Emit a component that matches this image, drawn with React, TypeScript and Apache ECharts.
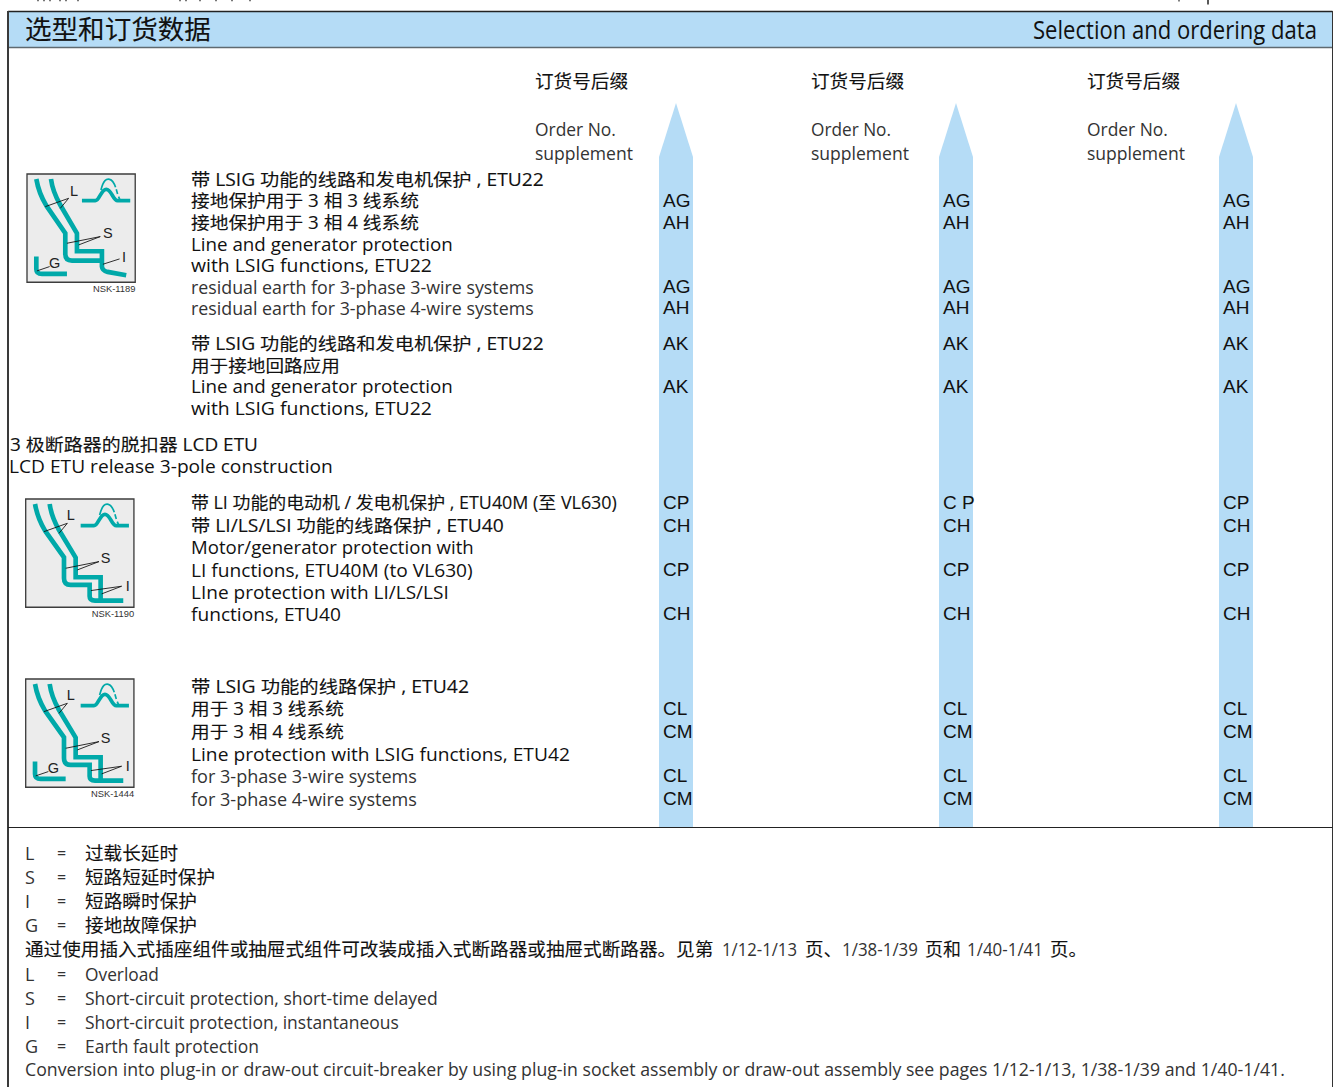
import React, { useEffect, useRef } from "react";
import * as echarts from "echarts";

const titleZh = "选型和订货数据";
const titleEn = "Selection and ordering data";
const headZh = "订货号后缀";
const headEn = ["Order No.", "supplement"];

const descLines = [
  "带 LSIG 功能的线路和发电机保护 , ETU22",
  "接地保护用于 3 相 3 线系统",
  "接地保护用于 3 相 4 线系统",
  "Line and generator protection",
  "with LSIG functions, ETU22",
  "residual earth for 3-phase 3-wire systems",
  "residual earth for 3-phase 4-wire systems",
  "带 LSIG 功能的线路和发电机保护 , ETU22",
  "用于接地回路应用",
  "Line and generator protection",
  "with LSIG functions, ETU22",
  "带 LI 功能的电动机 / 发电机保护 , ETU40M (至 VL630)",
  "带 LI/LS/LSI 功能的线路保护 , ETU40",
  "Motor/generator protection with",
  "LI functions, ETU40M (to VL630)",
  "LIne protection with LI/LS/LSI",
  "functions, ETU40",
  "带 LSIG 功能的线路保护 , ETU42",
  "用于 3 相 3 线系统",
  "用于 3 相 4 线系统",
  "Line protection with LSIG functions, ETU42",
  "for 3-phase 3-wire systems",
  "for 3-phase 4-wire systems",
];
const descY = [179, 200, 222, 244, 264.7, 286.7, 307.7, 343, 365, 386.7, 407.7, 502, 525, 547.7, 569.7, 591.7, 613.7, 686, 708, 731, 753.7, 775.7, 798.7];
const descRight = [544, 419, 419, 453, 432, 534, 534, 544, 340, 453, 432, 617, 504, 474, 473, 449, 341, 469, 344, 344, 570, 417, 417];
const descLight = [5, 6, 21, 22];

const sectionLines = ["3 极断路器的脱扣器 LCD ETU", "LCD ETU release 3-pole construction"];

const orderCodes = ["AG", "AH", "AG", "AH", "AK", "AK", "CP", "CH", "CP", "CH", "CL", "CM", "CL", "CM"];
const orderY = [200.3, 222.3, 286.3, 307.3, 343.3, 386.3, 502.3, 525.3, 569.3, 613.3, 708.3, 731.3, 775.3, 798.3];

const legendKeys = ["L", "S", "I", "G"];
const legendZh = ["过载长延时", "短路短延时保护", "短路瞬时保护", "接地故障保护"];
const legendEn = ["Overload", "Short-circuit protection, short-time delayed", "Short-circuit protection, instantaneous", "Earth fault protection"];
const noteZhParts = ["通过使用插入式插座组件或抽屉式组件可改装成插入式断路器或抽屉式断路器。见第", "1/12-1/13", "页、", "1/38-1/39", "页和", "1/40-1/41", "页。"];
const noteZhLeft = [25, 722, 805, 842, 925, 967, 1050];
const noteZhRight = [714, 797, 842, 918, 961, 1043, 1087];
const noteEn = "Conversion into plug-in or draw-out circuit-breaker by using plug-in socket assembly or draw-out assembly see pages 1/12-1/13, 1/38-1/39 and 1/40-1/41.";
const iconCodes = ["NSK-1189", "NSK-1190", "NSK-1444"];

const FONT = '"Open Sans","Noto Sans CJK SC",sans-serif';
const CJK = '"Noto Sans CJK SC"';
const BLUE = "#b5dcf6";
const TEAL = "#00a9a9";
const hasCjk = (t: string) => /[\u4e00-\u9fff]/.test(t);

let ctx: CanvasRenderingContext2D | null = null;
function measure(t: string, size: number, family: string) {
  if (!ctx) ctx = document.createElement("canvas").getContext("2d");
  ctx!.font = `normal ${size}px ${family}`;
  return ctx!.measureText(t).width;
}

function fit(t: string, x: number, y: number, right: number, opt: any = {}) {
  const size = opt.size ?? 17.5;
  const family = opt.family ?? FONT;
  const fill = opt.fill ?? "#111";
  const w = measure(t, size, family);
  const style: any = { text: t, fontSize: size, fontFamily: family, fill, verticalAlign: "middle", align: "left" };
  if (hasCjk(t)) {
    style.stroke = fill;
    style.lineWidth = 0.12;
  }
  return { type: "text", x, y, scaleX: (right - x) / w, silent: true, style };
}
function txt(t: string, x: number, y: number, opt: any = {}) {
  return {
    type: "text",
    x,
    y,
    silent: true,
    style: { text: t, fontSize: opt.size ?? 18, fontFamily: opt.family ?? FONT, fill: opt.fill ?? "#111", verticalAlign: "middle", align: opt.align ?? "left" },
  };
}

const reg = (name: string, d: string) => echarts.graphic.registerShape(name, echarts.graphic.extendPath(d, {}) as any);
reg("outerA1", "M28 15 C34 50 46 75 58 95 L115 178 L115 240 Q115 260 135 260 L225 260");
reg("innerA1", "M72 15 C76 45 88 72 100 93 L150 178 L150 232 L225 232 L225 278 Q226 290 242 294 L298 304");
reg("outerA2", "M28 15 C34 50 46 75 58 95 L115 175 L115 238 Q115 258 135 258 L192 258 L192 292 Q192 305 208 305 L293 305");
reg("innerA2", "M72 15 C76 45 88 72 100 93 L150 176 L150 235 L225 235 L225 305");
reg("peak", "M165 80 L205 80 C218 80 222 46 238 46 C254 46 258 80 272 80 L310 80");
reg("peakTop", "M222 48 C230 18 238 14 248 16 C258 18 262 28 266 40");
reg("peakDash", "M268 46 L272 60 M275 68 L280 80");
reg("groundG", "M28 248 L28 285 Q28 300 45 300 L120 300");

function icon(ox: number, oy: number, kind: number, hasG: boolean, code: string) {
  const stroke = { fill: "none", stroke: TEAL, lineWidth: 14 };
  const thin = (x1: number, y1: number, x2: number, y2: number) => ({
    type: "line", shape: { x1, y1, x2, y2 }, style: { stroke: "#111", lineWidth: 2.6 },
  });
  const marks: any[] = [
    { type: "rect", shape: { x: 0, y: 0, width: 325, height: 325 }, style: { fill: "#ececec", stroke: "#3d3d3d", lineWidth: 4 } },
    { type: kind === 1 ? "outerA1" : "outerA2", style: stroke },
    { type: kind === 1 ? "innerA1" : "innerA2", style: stroke },
    { type: "peak", style: { ...stroke, lineWidth: 11 } },
    { type: "peakTop", style: { ...stroke, lineWidth: 5 } },
    { type: "peakDash", style: { ...stroke, lineWidth: 5 } },
    thin(125, 73, 55, 98),
    thin(125, 73, 100, 103),
    thin(220, 188, 120, 208),
    thin(220, 188, 155, 213),
  ];
  if (hasG) {
    marks.push({ type: "groundG", style: stroke }, thin(68, 278, 30, 291));
  }
  if (kind === 1) marks.push(thin(278, 255, 228, 271));
  else marks.push(thin(288, 262, 196, 275), thin(288, 262, 228, 285));
  const lab = (t: string, x: number, y: number) => txt(t, x, y, { size: 14.5, family: '"Liberation Sans"', fill: "#222" });
  const labels: any[] = [
    lab("L", ox + (kind === 1 ? 43 : 41), oy + (kind === 1 ? 17 : 16)),
    lab("S", ox + (kind === 1 ? 76 : 75), oy + 59),
    kind === 1 ? lab("I", ox + 95, oy + 83) : lab("I", ox + 100, oy + 87),
  ];
  if (hasG) labels.push(lab("G", ox + 22, oy + 89));
  return [
    { type: "group", x: ox, y: oy, scaleX: 1 / 3, scaleY: 1 / 3, children: marks },
    ...labels,
    txt(code, ox + 108.5, oy + 114, { size: 9.4, family: '"Liberation Sans"', fill: "#333", align: "right" }),
  ];
}

function buildGraphic() {
  const el: any[] = [];
  const line = (x1: number, y1: number, x2: number, y2: number, stroke: string, lineWidth: number) =>
    el.push({ type: "line", shape: { x1, y1, x2, y2 }, style: { stroke, lineWidth } });
  // frame
  el.push({ type: "rect", shape: { x: 9, y: 12, width: 1323, height: 35 }, style: { fill: BLUE } });
  line(8, 11.5, 1332.5, 11.5, "#222", 1.5);
  line(8, 47.5, 1332.5, 47.5, "#5f6a70", 1.5);
  line(8, 11, 8, 1087, "#3a3a3a", 2);
  line(1332.5, 11, 1332.5, 1087, "#333", 1);
  line(8, 827.5, 1332.5, 827.5, "#222", 1);
  // clipped remains of the previous page line above the frame
  line(1208, 0, 1208, 4.5, "#222", 1.5);
  line(1179, 0, 1179, 1.5, "#555", 1.5);
  [38, 44, 50, 60, 66, 78, 180, 186, 200, 216, 232, 250].forEach((x) => line(x, 0, x, 1.2, "#777", 2));

  // pillars
  [676, 956, 1236].forEach((c) => {
    el.push({
      type: "polygon",
      shape: { points: [[c, 103], [c + 17, 157], [c + 17, 827], [c - 17, 827], [c - 17, 157]] },
      style: { fill: BLUE },
    });
  });

  el.push(fit(titleZh, 25, 28, 211, { size: 26.5, family: CJK }));
  el.push(fit(titleEn, 1033, 29, 1317, { size: 26 }));

  [535, 811, 1087].forEach((x) => {
    el.push(fit(headZh, x, 79, x + 93, { size: 18.6, family: CJK }));
  });
  [[535, 616, 633], [811, 891, 909], [1087, 1168, 1185]].forEach(([x, r1, r2]) => {
    el.push(fit(headEn[0], x, 129, r1, { fill: "#333" }));
    el.push(fit(headEn[1], x, 153, r2, { fill: "#333" }));
  });

  descLines.forEach((t, i) => {
    el.push(fit(t, 191, descY[i], descRight[i], { fill: descLight.includes(i) ? "#333" : "#111" }));
  });
  el.push(fit(sectionLines[0], 10, 444, 258));
  el.push(fit(sectionLines[1], 9, 465.7, 333));

  [663, 943, 1223].forEach((x, c) => {
    orderCodes.forEach((code, i) => {
      const label = c === 1 && i === 6 ? "C P" : code;
      el.push(txt(label, x, orderY[i], { size: 19, family: '"Liberation Sans"', fill: "#111" }));
    });
  });

  // legend
  const legendLeft = 25, eqX = 57, valueX = 85;
  const zhRight = [178, 215, 197, 197];
  const enRight = [159, 438, 399, 259];
  legendKeys.forEach((k, i) => {
    const y1 = 853 + i * 24, y2 = 973.7 + i * 24;
    [y1, y2].forEach((y) => {
      el.push(txt(k, legendLeft, y, { size: 18, fill: "#333" }));
      el.push(txt("=", eqX, y, { size: 16, fill: "#333" }));
    });
    el.push(fit(legendZh[i], valueX, y1 - 1.5, zhRight[i], { size: 18.6, family: CJK }));
    el.push(fit(legendEn[i], valueX, y2, enRight[i], { fill: "#333" }));
  });
  noteZhParts.forEach((t, i) => {
    const zh = hasCjk(t);
    el.push(fit(t, noteZhLeft[i], zh ? 947.5 : 949, noteZhRight[i], zh ? { size: 18.6, family: CJK } : { size: 18, fill: "#333" }));
  });
  el.push(fit(noteEn, legendLeft, 1069.5, 1285, { fill: "#333" }));

  el.push(...icon(27, 174, 1, true, iconCodes[0]));
  el.push(...icon(25.7, 499, 2, false, iconCodes[1]));
  el.push(...icon(25.7, 679, 2, true, iconCodes[2]));
  return el;
}

export default function App() {
  const ref = useRef<HTMLDivElement>(null);
  useEffect(() => {
    const chart = echarts.init(ref.current!, null, { renderer: "svg", width: 1335, height: 1087 });
    chart.setOption({ animation: false, backgroundColor: "#fff", graphic: { elements: buildGraphic() } });
    return () => chart.dispose();
  }, []);
  return <div ref={ref} style={{ position: "fixed", left: 0, top: 0, width: 1335, height: 1087 }} />;
}
